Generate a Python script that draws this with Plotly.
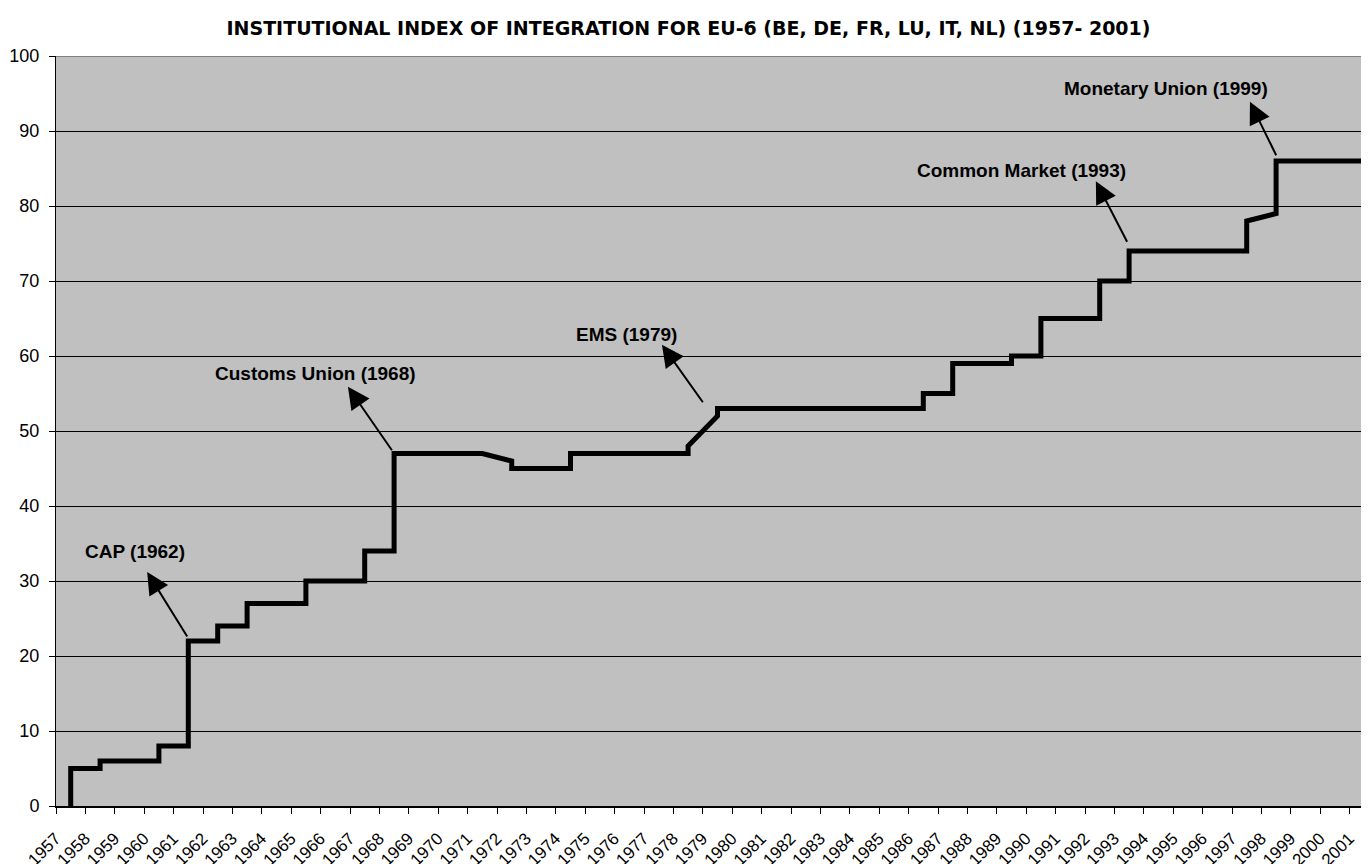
import plotly.graph_objects as go

# index per year: value where the year starts and where it ends
years = [str(y) for y in range(1957, 2002)]
value_start = [0, 5, 6, 6, 8, 22, 24, 27, 27, 30, 30, 34,
               47, 47, 47, 46, 45, 45, 47, 47, 47, 47, 52,
               53, 53, 53, 53, 53, 53, 53, 55, 59, 59, 60, 65,
               65, 70, 74, 74, 74, 74, 79, 86, 86, 86]
value_end = [5, 6, 6, 8, 22, 24, 27, 27, 30, 30, 34, 47,
             47, 47, 47, 45, 45, 47, 47, 47, 47, 48, 53,
             53, 53, 53, 53, 53, 53, 55, 59, 59, 60, 65, 65,
             70, 74, 74, 74, 74, 78, 86, 86, 86, 86]

# milestone labels: (text, label x, label y, arrow tip x, arrow tip y, ax, ay)
milestones = [
    ("CAP (1962)", 2.19, 34.0, 2.60, 31.2, 41, 66),
    ("Customs Union (1968)", 8.33, 57.7, 9.43, 55.9, 45, 65),
    ("EMS (1979)", 18.92, 62.9, 20.11, 61.5, 42, 59),
    ("Common Market (1993)", 32.34, 84.7, 34.87, 83.3, 32, 62),
    ("Monetary Union (1999)", 37.26, 95.7, 40.11, 93.9, 27, 55),
]

path_x = []
path_y = []
for yr, a, b in zip(years, value_start, value_end):
    path_x += [yr, yr]
    path_y += [a, b]

fig = go.Figure()
fig.add_trace(go.Scatter(
    x=path_x,
    y=path_y,
    mode='lines',
    line=dict(color='black', width=5),
    showlegend=False,
    hoverinfo='skip'
))

font_family = 'Arial'

annotations = []
for text, tx, ty, hx, hy, ax, ay in milestones:
    annotations.append(dict(
        x=tx, y=ty, xref='x', yref='y',
        text='<b>' + text + '</b>',
        showarrow=False,
        font=dict(family=font_family, size=19, color='black')
    ))
    annotations.append(dict(
        x=hx, y=hy, xref='x', yref='y',
        ax=ax, ay=ay,
        text='',
        showarrow=True,
        arrowhead=2,
        arrowsize=2.2,
        arrowwidth=2,
        arrowcolor='black'
    ))

# page body has an 8px margin, so the figure is sized to fit the window
fig.update_layout(
    width=1361,
    height=856,
    margin=dict(l=48, r=0, t=48, b=58),
    paper_bgcolor='white',
    plot_bgcolor='#C0C0C0',
    title=dict(
        text='<b>INSTITUTIONAL INDEX OF INTEGRATION FOR EU-6 '
             '(BE, DE, FR, LU, IT, NL) (1957- 2001)</b>',
        x=0.5,
        xanchor='center',
        y=1 - 20 / 856,
        yanchor='middle',
        font=dict(family='DejaVu Sans', size=19, color='black')
    ),
    xaxis=dict(
        type='category',
        categoryorder='array',
        categoryarray=years,
        range=[-0.5, 44.16],
        tickson='boundaries',
        ticks='outside',
        ticklen=6,
        tickcolor='black',
        tickangle=-45,
        showgrid=False,
        showline=True,
        linecolor='black',
        linewidth=2,
        automargin=False,
        ticklabelstandoff=14,
        ticklabelshift=-15,
        tickfont=dict(family=font_family, size=17, color='black'),
        zeroline=False
    ),
    yaxis=dict(
        range=[0, 100],
        dtick=10,
        ticks='outside',
        ticklen=6,
        tickcolor='black',
        showgrid=True,
        gridcolor='black',
        gridwidth=1,
        showline=True,
        linecolor='black',
        linewidth=1,
        zeroline=False,
        automargin=False,
        ticklabelstandoff=6,
        tickfont=dict(family=font_family, size=18, color='black')
    ),
    annotations=annotations,
    shapes=[dict(
        type='line', xref='paper', yref='y',
        x0=0, x1=1, y0=100, y1=100,
        line=dict(color='#808080', width=2)
    )]
)

fig.write_html("out.html")
